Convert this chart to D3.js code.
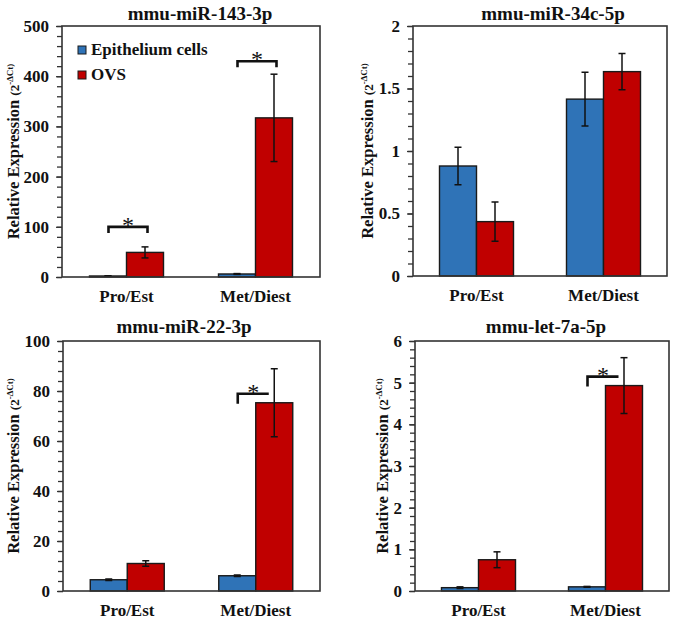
<!DOCTYPE html>
<html>
<head>
<meta charset="utf-8">
<script src="https://cdn.jsdelivr.net/npm/d3@7"></script>
<style>
  html, body { margin: 0; padding: 0; background: #fff; }
  svg { display: block; }
</style>
</head>
<body>
<svg id="chart" width="675" height="621"></svg>
<script>
// ---------------- DATA ----------------
const categories = ["Pro/Est", "Met/Diest"];
const seriesNames = ["Epithelium cells", "OVS"];
const seriesColors = ["#2f73b7", "#c00000"];

const titles = ["mmu-miR-143-3p", "mmu-miR-34c-5p", "mmu-miR-22-3p", "mmu-let-7a-5p"];

// mmu-miR-143-3p
const mir143Epi = [2, 6];
const mir143EpiErr = [0.5, 0.8];
const mir143Ovs = [49, 317];
const mir143OvsErr = [11, 87];
// mmu-miR-34c-5p
const mir34cEpi = [0.88, 1.415];
const mir34cEpiErr = [0.15, 0.215];
const mir34cOvs = [0.435, 1.635];
const mir34cOvsErr = [0.157, 0.145];
// mmu-miR-22-3p
const mir22Epi = [4.5, 6.1];
const mir22EpiErr = [0.3, 0.3];
const mir22Ovs = [11, 75.3];
const mir22OvsErr = [1.1, 13.6];
// mmu-let-7a-5p
const let7aEpi = [0.08, 0.1];
const let7aEpiErr = [0.02, 0.01];
const let7aOvs = [0.75, 4.93];
const let7aOvsErr = [0.19, 0.67];

// axis tick definitions
const yMaxes = [500, 2, 100, 6];
const majorSteps = [100, 0.5, 20, 1];
const minorSteps = [20, 0.1, 4, 0.2];

// significance markers: [panel, category index]
const sigPanels = [0, 0, 2, 3];
const sigCats = [0, 1, 1, 1];

// ---------------- LAYOUT ----------------
const FONT = "Liberation Serif";
const frames = [
  {left: 62, right: 320, top: 26, bottom: 277, titleX: 200, titleY: 20, ylabX: 19},
  {left: 413, right: 667, top: 26, bottom: 276, titleX: 553, titleY: 20, ylabX: 373},
  {left: 63, right: 320, top: 341, bottom: 591, titleX: 184, titleY: 333, ylabX: 19},
  {left: 415, right: 669, top: 341, bottom: 591, titleX: 546, titleY: 333, ylabX: 388}
];
const panelData = [
  [mir143Epi, mir143EpiErr, mir143Ovs, mir143OvsErr],
  [mir34cEpi, mir34cEpiErr, mir34cOvs, mir34cOvsErr],
  [mir22Epi, mir22EpiErr, mir22Ovs, mir22OvsErr],
  [let7aEpi, let7aEpiErr, let7aOvs, let7aOvsErr]
];

const svg = d3.select("#chart");
const axisColor = "#333";
const fmt = v => (Math.round(v * 10) / 10).toString();
const styleText = (sel, size, weight) => sel
  .attr("font-family", FONT).attr("font-weight", weight || "bold")
  .attr("font-size", size).attr("fill", "#111")
  .style("font-family", FONT).style("font-weight", weight || "bold").style("font-size", size + "px");

frames.forEach((f, p) => {
  const g = svg.append("g");
  const y = d3.scaleLinear().domain([0, yMaxes[p]]).range([f.bottom, f.top]);
  const x0 = d3.scaleBand().domain(categories).range([f.left, f.right]).padding(0);
  const barW = 37;
  const x1 = d3.scaleBand().domain(seriesNames).range([-barW, barW]).padding(0);

  // title
  styleText(g.append("text").attr("x", f.titleX).attr("y", f.titleY)
    .attr("text-anchor", "middle").text(titles[p]), 19);

  // minor ticks
  const minorVals = d3.range(0, yMaxes[p] + minorSteps[p] / 2, minorSteps[p]);
  const majorVals = d3.range(0, yMaxes[p] + majorSteps[p] / 2, majorSteps[p]);
  const minorAxis = d3.axisLeft(y).tickValues(minorVals).tickSize(5).tickFormat("");
  const gm = g.append("g").attr("transform", `translate(${f.left},0)`).call(minorAxis);
  gm.select(".domain").remove();
  gm.selectAll("line").attr("stroke", axisColor).attr("stroke-width", 1.3);

  const majorAxis = d3.axisLeft(y).tickValues(majorVals).tickSize(6).tickPadding(7).tickFormat(fmt);
  const ga = g.append("g").attr("transform", `translate(${f.left},0)`).call(majorAxis);
  ga.attr("font-family", FONT);
  ga.select(".domain").remove();
  ga.selectAll("line").attr("stroke", axisColor).attr("stroke-width", 1.3);
  styleText(ga.selectAll("text"), 17);

  // bars
  const [epi, epiErr, ovs, ovsErr] = panelData[p];
  const vals = [epi, ovs];
  const errs = [epiErr, ovsErr];
  seriesNames.forEach((s, si) => {
    const rows = categories.map((c, ci) => ({c, v: vals[si][ci], e: errs[si][ci]}));
    const cx = c => x0(c) + x0.bandwidth() / 2 + x1(s);
    g.selectAll(null).data(rows).enter().append("rect")
      .attr("x", d => cx(d.c))
      .attr("y", d => y(d.v))
      .attr("width", x1.bandwidth())
      .attr("height", d => y(0) - y(d.v))
      .attr("fill", seriesColors[si])
      .attr("stroke", "#1a1a1a").attr("stroke-width", 1.4);
    // error bars
    rows.forEach(d => {
      const mx = cx(d.c) + x1.bandwidth() / 2;
      const lo = Math.max(0, d.v - d.e), hi = d.v + d.e;
      g.append("line").attr("x1", mx).attr("x2", mx).attr("y1", y(lo)).attr("y2", y(hi))
        .attr("stroke", "#111").attr("stroke-width", 1.5);
      [lo, hi].forEach(v => {
        g.append("line").attr("x1", mx - 3.5).attr("x2", mx + 3.5).attr("y1", y(v)).attr("y2", y(v))
          .attr("stroke", "#111").attr("stroke-width", 1.5);
      });
    });
  });

  // plot box
  g.append("rect").attr("x", f.left).attr("y", f.top)
    .attr("width", f.right - f.left).attr("height", f.bottom - f.top)
    .attr("fill", "none").attr("stroke", axisColor).attr("stroke-width", 1.6);

  // x axis labels
  const xa = d3.axisBottom(x0).tickSize(0).tickPadding(13);
  const gx = g.append("g").attr("transform", `translate(0,${f.bottom})`).call(xa);
  gx.attr("font-family", FONT);
  gx.select(".domain").remove();
  styleText(gx.selectAll("text"), 17);

  // y label
  const cy = (f.top + f.bottom) / 2;
  const yl = styleText(g.append("text").attr("transform", `translate(${f.ylabX},${cy}) rotate(-90)`)
    .attr("text-anchor", "middle"), 16.5);
  yl.append("tspan").text("Relative Expression ");
  yl.append("tspan").style("font-size", "13px").text(" (2");
  yl.append("tspan").style("font-size", "9px").attr("dy", -6).text("-ΔCt)");
});

// legend (first panel)
{
  const lx = 78, ly = [46, 71];
  seriesNames.forEach((s, i) => {
    svg.append("rect").attr("x", lx).attr("y", ly[i]).attr("width", 8).attr("height", 8)
      .attr("fill", seriesColors[i]).attr("stroke", "#1a1a1a").attr("stroke-width", 1);
    styleText(svg.append("text").attr("x", lx + 13).attr("y", ly[i] + 9).text(s), 17);
  });
}

// significance brackets
sigPanels.forEach((p, k) => {
  const f = frames[p];
  const ci = sigCats[k];
  const x0 = d3.scaleBand().domain(categories).range([f.left, f.right]).padding(0);
  const y = d3.scaleLinear().domain([0, yMaxes[p]]).range([f.bottom, f.top]);
  const [epi, epiErr, ovs, ovsErr] = panelData[p];
  const c = x0(categories[ci]) + x0.bandwidth() / 2;
  let xL, xR, yB, path;
  if (p === 0) {
    xL = c - 18; xR = c + 21;
    yB = ci === 0 ? y(ovs[ci] + ovsErr[ci]) - 20 : y(ovs[ci] + ovsErr[ci]) - 13;
    path = `M${xL},${yB + 6}V${yB}H${xR}V${yB + 6}`;
  } else {
    xL = c - 18; xR = c + 13;
    yB = y(ovs[ci]) - 9;
    path = `M${xL},${yB + 10}V${yB}H${xR}`;
  }
  svg.append("path").attr("d", path).attr("fill", "none").attr("stroke", "#111").attr("stroke-width", 2.6);
  styleText(svg.append("text").attr("x", (xL + xR) / 2).attr("y", yB + 6).attr("text-anchor", "middle").text("*"), 24, "normal");
});
</script>
</body>
</html>
